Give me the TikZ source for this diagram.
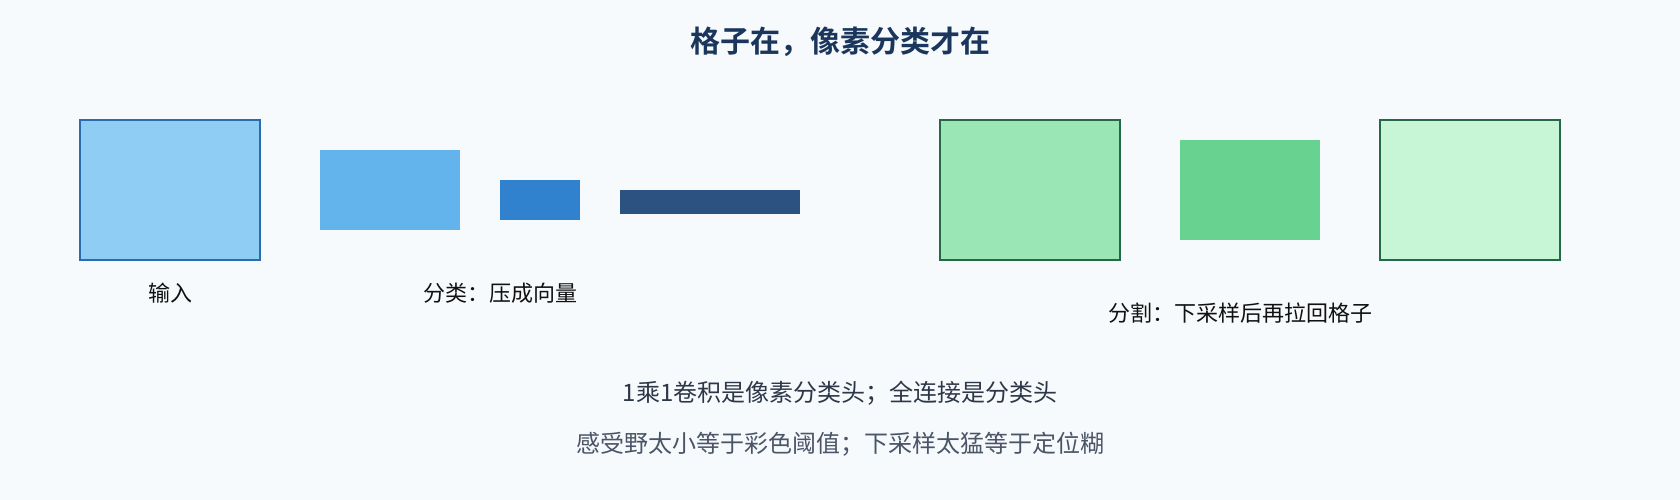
\documentclass[tikz,border=0pt]{standalone}
\usepackage{fontspec}
\setmainfont{Noto Sans CJK SC}
\newfontfamily\cjk{Noto Sans CJK SC}
\newfontfamily\cjkbold{Noto Sans CJK SC Bold}
\definecolor{bg}{HTML}{F7FAFC}
\definecolor{blueA}{HTML}{90CDF4}
\definecolor{blueB}{HTML}{63B3ED}
\definecolor{blueC}{HTML}{3182CE}
\definecolor{blueD}{HTML}{2C5282}
\definecolor{blueS}{HTML}{2B6CB0}
\definecolor{greenA}{HTML}{9AE6B4}
\definecolor{greenB}{HTML}{68D391}
\definecolor{greenC}{HTML}{C6F6D5}
\definecolor{greenS}{HTML}{276749}
\definecolor{titlec}{HTML}{1A365D}
\definecolor{lineone}{HTML}{2D3748}
\definecolor{linetwo}{HTML}{4A5568}
\definecolor{labelc}{HTML}{111111}
\tikzset{
  blockbox/.style={draw=none, inner sep=0pt, outer sep=0pt, anchor=north west},
  edgebox/.style={blockbox, draw, line width=2pt},
  lbl/.style={font=\cjk\fontsize{22}{26}\selectfont, text=labelc, inner sep=0pt},
  note/.style={font=\cjk\fontsize{24}{28}\selectfont, inner sep=0pt},
}
\begin{document}
\begin{tikzpicture}[x=1pt,y=-1pt]
\path[use as bounding box, fill=bg] (0,0) rectangle (1680,500);
\node[font=\cjkbold\fontsize{30}{34}\selectfont, text=titlec, inner sep=0pt] (title) at (840,42) {格子在，像素分类才在};
% classification branch
\node[edgebox, draw=blueS, fill=blueA, minimum width=180pt, minimum height=140pt] (inp) at (80,120) {};
\node[blockbox, fill=blueB, minimum width=140pt, minimum height=80pt] (c1) at (320,150) {};
\node[blockbox, fill=blueC, minimum width=80pt, minimum height=40pt] (c2) at (500,180) {};
\node[blockbox, fill=blueD, minimum width=180pt, minimum height=24pt] (c3) at (620,190) {};
% segmentation branch
\node[edgebox, draw=greenS, fill=greenA, minimum width=180pt, minimum height=140pt] (s1) at (940,120) {};
\node[blockbox, fill=greenB, minimum width=140pt, minimum height=100pt] (s2) at (1180,140) {};
\node[edgebox, draw=greenS, fill=greenC, minimum width=180pt, minimum height=140pt] (s3) at (1380,120) {};
% labels
\node[lbl] (linp) at (170,293) {输入};
\node[lbl] (lcls) at (500,293) {分类：压成向量};
\node[lbl] (lseg) at (1240,313) {分割：下采样后再拉回格子};
\node[note, text=lineone] (n1) at (840,393) {1乘1卷积是像素分类头；全连接是分类头};
\node[note, text=linetwo] (n2) at (840,444) {感受野太小等于彩色阈值；下采样太猛等于定位糊};
\end{tikzpicture}
\end{document}
